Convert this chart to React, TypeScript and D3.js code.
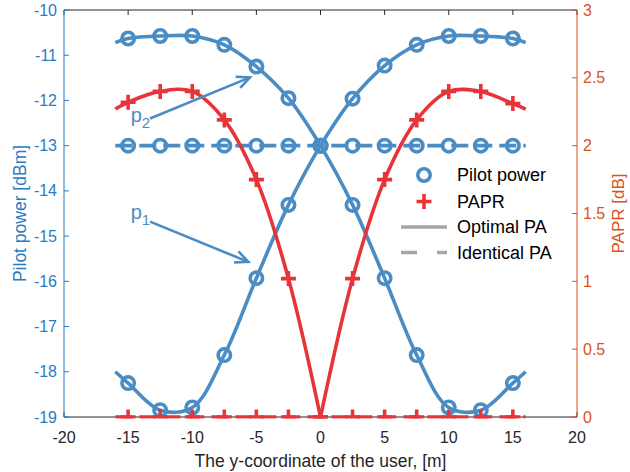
import React from "react";
import * as d3 from "d3";

// ---- Data ----
const positions = [-16, -15, -12.5, -10, -7.5, -5, -2.5, 0, 2.5, 5, 7.5, 10, 12.5, 15, 16];
const pilotP2 = [-10.72, -10.63, -10.575, -10.575, -10.77, -11.25, -11.95, -13, -14.31, -15.93, -17.63, -18.79, -18.85, -18.25, -18.0];
const pilotP1 = [-18.0, -18.25, -18.85, -18.79, -17.63, -15.93, -14.31, -13, -11.96, -11.23, -10.77, -10.575, -10.575, -10.63, -10.72];
const paprOptimal = [2.27, 2.32, 2.4, 2.4, 2.19, 1.75, 1.02, 0, 1.02, 1.75, 2.19, 2.4, 2.4, 2.31, 2.27];
const pilotIdentical = [-13, -13, -13, -13, -13, -13, -13, -13, -13, -13, -13, -13, -13, -13, -13];
const paprIdentical = [0, 0, 0, 0, 0, 0, 0, 0, 0, 0, 0, 0, 0, 0, 0];

const xTicks = [-20, -15, -10, -5, 0, 5, 10, 15, 20];
const yLeftTicks = [-10, -11, -12, -13, -14, -15, -16, -17, -18, -19];
const yRightTicks = [0, 0.5, 1, 1.5, 2, 2.5, 3];
const legendLabels = ["Pilot power", "PAPR", "Optimal PA", "Identical PA"];

// annotation anchors in data units
const annP2 = { label: "p", sub: "2", tx: -14.8, ty: -12.48, fx: -13.29, fy: -12.4, ax: -5.5, ay: -11.49 };
const annP1 = { label: "p", sub: "1", tx: -14.8, ty: -14.62, fx: -13.29, fy: -14.68, ax: -5.63, ay: -15.57 };

const W = 630, H = 472;
const L = 64, R = 577, T = 10, B = 417;

const BLUE = "#4A8CC4";
const RED = "#E8333A";
const AX_BLUE = "#2B7BBF";
const AX_ORANGE = "#D95319";
const GRAY = "#A6A6A6";
const DARK = "#262626";
const FONT = "'Liberation Sans', Arial, Helvetica, sans-serif";

export default function App() {
  const x = d3.scaleLinear().domain([-20, 20]).range([L, R]);
  const yL = d3.scaleLinear().domain([-19, -10]).range([B, T]);
  const yR = d3.scaleLinear().domain([0, 3]).range([B, T]);

  const curve = d3.curveCatmullRom.alpha(0.5);
  const lineL = d3.line<[number, number]>().x(d => x(d[0])).y(d => yL(d[1])).curve(curve);
  const lineR = d3.line<[number, number]>().x(d => x(d[0])).y(d => yR(d[1])).curve(curve);
  const lineStraightL = d3.line<[number, number]>().x(d => x(d[0])).y(d => yL(d[1]));
  const lineStraightR = d3.line<[number, number]>().x(d => x(d[0])).y(d => yR(d[1]));

  const zipped = (ys: number[]) => positions.map((p, i) => [p, ys[i]] as [number, number]);
  const markerIdx = positions.map((p, i) => i).filter(i => Math.abs(positions[i]) <= 15);

  const p2Path = lineL(zipped(pilotP2)) || "";
  const p1Path = lineL(zipped(pilotP1)) || "";
  const paprAll = zipped(paprOptimal);
  const zeroIdx = positions.indexOf(0);
  const paprLeft = lineR(paprAll.slice(0, zeroIdx + 1)) || "";
  const paprRight = lineR(paprAll.slice(zeroIdx)) || "";
  const identPilot = lineStraightL(zipped(pilotIdentical)) || "";
  const identPapr = lineStraightR(zipped(paprIdentical)) || "";

  const dash = "17 7";
  const lw = 3.6;
  const mr = 6.2;
  const ps = 7.5;

  const circle = (cx: number, cy: number, key: string) => (
    <circle key={key} cx={cx} cy={cy} r={mr} fill="none" stroke={BLUE} strokeWidth={lw} />
  );
  const plus = (cx: number, cy: number, key: string) => (
    <path key={key} d={`M${cx - ps},${cy}H${cx + ps}M${cx},${cy - ps}V${cy + ps}`} stroke={RED} strokeWidth={lw} fill="none" />
  );

  const arrow = (a: typeof annP2, key: string) => {
    const x0 = x(a.fx), y0 = yL(a.fy), x1 = x(a.ax), y1 = yL(a.ay);
    const dx = x1 - x0, dy = y1 - y0;
    const len = Math.hypot(dx, dy);
    const ux = dx / len, uy = dy / len;
    const hl = 13, hw = 6;
    const bx = x1 - ux * hl, by = y1 - uy * hl;
    const lx = bx - uy * hw, ly = by + ux * hw;
    const rx = bx + uy * hw, ry = by - ux * hw;
    return (
      <g key={key}>
        <line x1={x0} y1={y0} x2={x1} y2={y1} stroke={BLUE} strokeWidth={2.6} />
        <path d={`M${lx},${ly}L${x1},${y1}L${rx},${ry}`} fill="none" stroke={BLUE} strokeWidth={2.6} strokeLinejoin="miter" />
        <text x={x(a.tx)} y={yL(a.ty)} fill={BLUE} fontSize={20} fontFamily={FONT}>
          {a.label}
          <tspan fontSize={15} dy={6}>{a.sub}</tspan>
        </text>
      </g>
    );
  };

  const legendX0 = 401, legendX1 = 447, legendTextX = 457;
  const legendYs = [175, 201.5, 227, 252.5];

  return (
    <svg width={W} height={H} style={{ position: "absolute", left: 0, top: 0, background: "#fff" }}>
      <rect x={0} y={0} width={W} height={H} fill="#fff" />
      <defs>
        <clipPath id="plotclip">
          <rect x={L} y={T} width={R - L} height={B - T + 1.5} />
        </clipPath>
      </defs>

      {/* axes box (drawn below data) */}
      <line x1={L} y1={T} x2={R} y2={T} stroke={DARK} strokeWidth={1} />
      <line x1={L} y1={B} x2={R} y2={B} stroke={DARK} strokeWidth={1} />
      {xTicks.map(t => (
        <g key={"xt" + t}>
          <line x1={x(t)} x2={x(t)} y1={B} y2={B - 5} stroke={DARK} />
          <line x1={x(t)} x2={x(t)} y1={T} y2={T + 5} stroke={DARK} />
          <text x={x(t)} y={437} textAnchor="middle" dominantBaseline="central" fontSize={16} fill={DARK} fontFamily={FONT}>{t}</text>
        </g>
      ))}
      <line x1={L} y1={T} x2={L} y2={B} stroke={AX_BLUE} strokeWidth={1} />
      {yLeftTicks.map(t => (
        <g key={"yl" + t}>
          <line x1={L} x2={L + 5} y1={yL(t)} y2={yL(t)} stroke={AX_BLUE} />
          <text x={57} y={yL(t)} textAnchor="end" dominantBaseline="central" fontSize={16} fill={AX_BLUE} fontFamily={FONT}>{t}</text>
        </g>
      ))}
      <line x1={R} y1={T} x2={R} y2={B} stroke={AX_ORANGE} strokeWidth={1} />
      {yRightTicks.map(t => (
        <g key={"yr" + t}>
          <line x1={R} x2={R - 5} y1={yR(t)} y2={yR(t)} stroke={AX_ORANGE} />
          <text x={583} y={yR(t)} textAnchor="start" dominantBaseline="central" fontSize={16} fill={AX_ORANGE} fontFamily={FONT}>{t}</text>
        </g>
      ))}

      {/* data */}
      <g clipPath="url(#plotclip)">
        <path d={identPilot} fill="none" stroke={BLUE} strokeWidth={lw} strokeDasharray={dash} />
        <path d={p2Path} fill="none" stroke={BLUE} strokeWidth={lw} />
        <path d={p1Path} fill="none" stroke={BLUE} strokeWidth={lw} />
        {markerIdx.map(i => circle(x(positions[i]), yL(pilotIdentical[i]), "ci" + i))}
        {markerIdx.map(i => circle(x(positions[i]), yL(pilotP2[i]), "c2" + i))}
        {markerIdx.map(i => circle(x(positions[i]), yL(pilotP1[i]), "c1" + i))}

        <path d={identPapr} fill="none" stroke={RED} strokeWidth={lw} strokeDasharray={dash} />
        <path d={paprLeft} fill="none" stroke={RED} strokeWidth={lw} />
        <path d={paprRight} fill="none" stroke={RED} strokeWidth={lw} />
        {markerIdx.map(i => plus(x(positions[i]), yR(paprOptimal[i]), "po" + i))}
        {markerIdx.map(i => plus(x(positions[i]), yR(paprIdentical[i]), "pi" + i))}
      </g>

      {/* axis labels */}
      <text x={(L + R) / 2} y={461} textAnchor="middle" dominantBaseline="central" fontSize={17.5} fill={DARK} fontFamily={FONT}>
        The y-coordinate of the user, [m]
      </text>
      <text transform={`translate(20,${(T + B) / 2}) rotate(-90)`} textAnchor="middle" dominantBaseline="central" fontSize={17.5} fill={AX_BLUE} fontFamily={FONT}>
        Pilot power [dBm]
      </text>
      <text transform={`translate(618,${(T + B) / 2}) rotate(-90)`} textAnchor="middle" dominantBaseline="central" fontSize={17} fill={AX_ORANGE} fontFamily={FONT}>
        PAPR [dB]
      </text>

      {/* annotations */}
      {arrow(annP2, "a2")}
      {arrow(annP1, "a1")}

      {/* legend */}
      <g>
        <circle cx={(legendX0 + legendX1) / 2} cy={legendYs[0]} r={mr} fill="none" stroke={BLUE} strokeWidth={lw} />
        {plus((legendX0 + legendX1) / 2, legendYs[1], "lp")}
        <line x1={legendX0} x2={legendX1} y1={legendYs[2]} y2={legendYs[2]} stroke={GRAY} strokeWidth={lw} />
        <line x1={legendX0} x2={legendX1} y1={legendYs[3]} y2={legendYs[3]} stroke={GRAY} strokeWidth={lw} strokeDasharray="16 20" />
        {legendLabels.map((s, i) => (
          <text key={s} x={legendTextX} y={legendYs[i]} dominantBaseline="central" fontSize={18} fill="#000" fontFamily={FONT}>{s}</text>
        ))}
      </g>
    </svg>
  );
}
